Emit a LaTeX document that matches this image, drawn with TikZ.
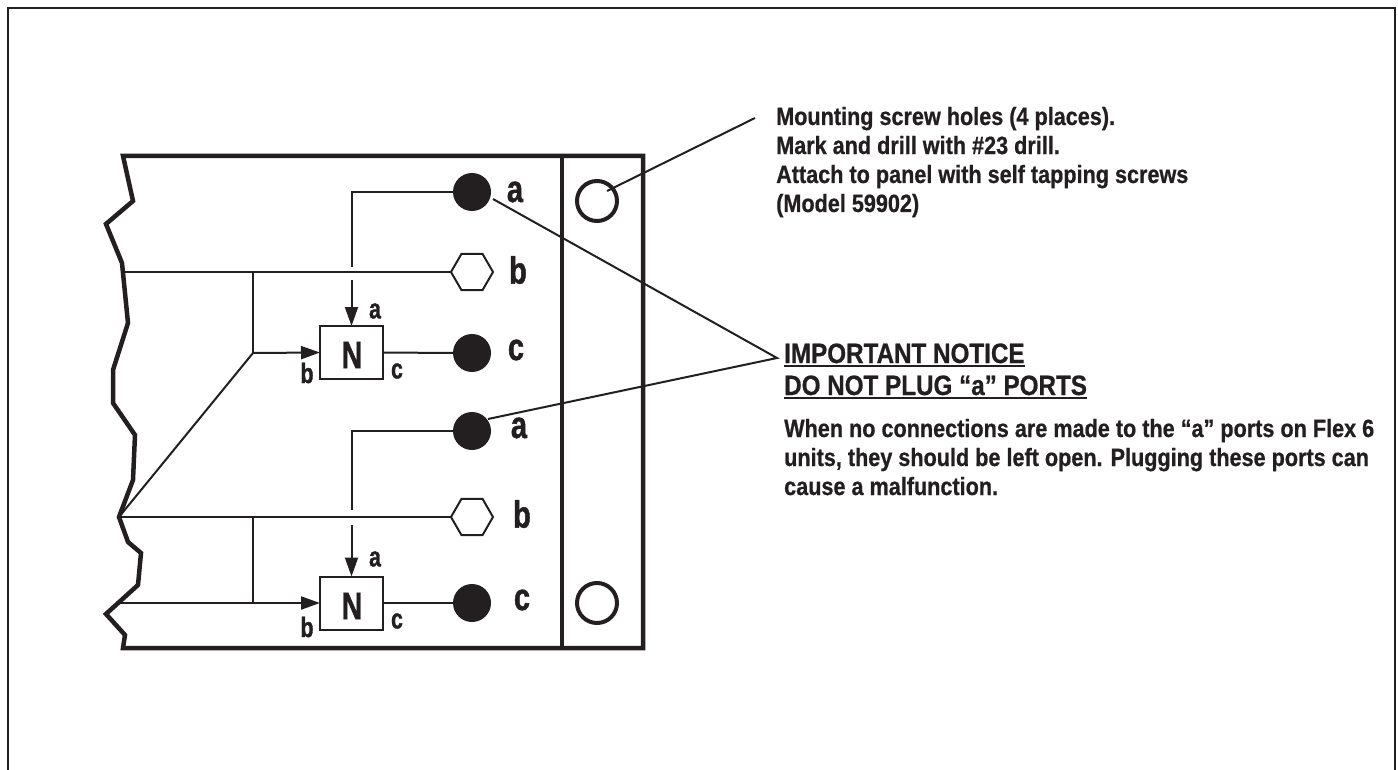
\documentclass[tikz,border=0pt]{standalone}
\usepackage{fontspec}
\setmainfont{Liberation Sans}[FakeStretch=0.865,BoldFeatures={FakeBold=0.7}]
\newfontfamily\portfont{Liberation Sans}[FakeStretch=0.76,BoldFeatures={FakeBold=1.2}]
\usepackage{tikz}
\usetikzlibrary{shapes.geometric}
\usetikzlibrary{arrows.meta}
\definecolor{inkblack}{HTML}{231F20}
\tikzset{
  hairline/.style={line width=2pt,color=inkblack},
  heavyline/.style={line width=4.5pt,color=inkblack,line join=miter},
  flowline/.style={hairline,-{Triangle[length=19pt,width=13pt]}},
  portdot/.style={circle,fill=inkblack,inner sep=0pt,outer sep=0pt,minimum size=38pt},
  porthex/.style={regular polygon,regular polygon sides=6,draw=inkblack,line width=2pt,fill=white,inner sep=0pt,outer sep=0pt,minimum size=42pt},
  screwhole/.style={circle,draw=inkblack,line width=4pt,fill=white,inner sep=0pt,outer sep=0pt,minimum size=40pt},
  valvebox/.style={rectangle,draw=inkblack,line width=2pt,fill=white,inner sep=0pt,outer sep=0pt,minimum width=63pt,minimum height=53pt},
  biglabel/.style={inner sep=0pt,text=inkblack,font=\fontsize{38}{38}\portfont\bfseries},
  smalllabel/.style={inner sep=0pt,text=inkblack,font=\fontsize{28}{28}\portfont\bfseries},
  notetext/.style={inner sep=0pt,anchor=base west,align=left,text=inkblack,font=\fontsize{25}{29}\selectfont\bfseries},
  headtext/.style={inner sep=0pt,anchor=base west,text=inkblack,font=\fontsize{28}{32}\selectfont\bfseries}
}
\begin{document}
\begin{tikzpicture}[x=1pt,y=-1pt,line cap=butt]
\useasboundingbox (0,0) rectangle (1398,770);
\fill[white] (0,0) rectangle (1398,770);
\draw [hairline] (8,770)-- (8,8)-- (1395,8)-- (1395,770);
\draw [heavyline] (123,156)-- (133,201)-- (106,224)-- (122,263)-- (128,323)-- (113,370)-- (113,403)-- (135,435)-- (133,480)-- (119,517)-- (128,542)-- (141,553)-- (138,585)-- (106,614)-- (125,635)-- (123,648)-- (643,648)-- (643,156)-- cycle;
\draw [heavyline] (562,156)-- (562,648);
\node[screwhole] (holeTop) at (597,201) {};
\node[screwhole] (holeBottom) at (597,603) {};
\node[portdot] (portA1) at (472,192) {};
\node[porthex] (portB1) at (472,272) {};
\node[portdot] (portC1) at (472,353) {};
\node[portdot] (portA2) at (472,431) {};
\node[porthex] (portB2) at (472,517) {};
\node[portdot] (portC2) at (472,603) {};
\node[valvebox] (valve1) at (351.5,352.5) {};
\node[valvebox] (valve2) at (351.5,603) {};
\node[biglabel] (labelA1) at (515,192) {a};
\node[biglabel] (labelB1) at (518,270) {b};
\node[biglabel] (labelC1) at (516,350) {c};
\node[biglabel] (labelA2) at (519,428) {a};
\node[biglabel] (labelB2) at (522,514) {b};
\node[biglabel] (labelC2) at (522,600) {c};
\node[smalllabel] (labelAa1) at (375,311) {a};
\node[smalllabel] (labelBb1) at (307,373) {b};
\node[smalllabel] (labelCc1) at (397,371) {c};
\node[smalllabel] (labelAa2) at (375,559) {a};
\node[smalllabel] (labelBb2) at (307,627) {b};
\node[smalllabel] (labelCc2) at (397,621) {c};
\node[biglabel] (nameN1) at (352,355) {N};
\node[biglabel] (nameN2) at (352,606) {N};
\coordinate (edgeB1) at (122,272);
\coordinate (edgeB2) at (119,517);
\coordinate (edgeC2) at (120,603);
\coordinate (teeB1) at (253,272);
\coordinate (kneeB1) at (253,353);
\coordinate (teeB2) at (253,517);
\coordinate (kneeB2) at (253,603);
\coordinate (cornerA1) at (351.5,192);
\coordinate (gapA1top) at (351.5,267);
\coordinate (gapA1low) at (351.5,280);
\coordinate (cornerA2) at (351.5,431);
\coordinate (gapA2top) at (351.5,510);
\coordinate (gapA2low) at (351.5,525);
\coordinate (leaderScrew) at (755,118);
\coordinate (leaderScrewEnd) at (607,191);
\coordinate (leaderNotice) at (777,358);
\coordinate (leaderPortA1) at (493,199);
\coordinate (leaderPortA2) at (488,419);
\draw [hairline] (portA1.west)-- (cornerA1)-- (gapA1top);
\draw [flowline] (gapA1low)-- (valve1.north);
\draw [hairline] (edgeB1)-- (portB1.west);
\draw [hairline] (teeB1)-- (kneeB1);
\draw [flowline] (kneeB1)-- (valve1.west);
\draw [hairline] (kneeB1)-- (edgeB2);
\draw [hairline] (valve1.east)-- (portC1.west);
\draw [hairline] (portA2.west)-- (cornerA2)-- (gapA2top);
\draw [flowline] (gapA2low)-- (valve2.north);
\draw [hairline] (edgeB2)-- (portB2.west);
\draw [hairline] (teeB2)-- (kneeB2);
\draw [flowline] (edgeC2)-- (valve2.west);
\draw [hairline] (valve2.east)-- (portC2.west);
\draw [hairline] (leaderScrew)-- (leaderScrewEnd);
\draw [hairline] (leaderPortA1)-- (leaderNotice)-- (leaderPortA2);
\node[notetext] (noteScrew) at (776,212) {Mounting screw holes (4 places).\\Mark and drill with \#23 drill.\\Attach to panel with self tapping screws\\(Model 59902)};
\node[headtext] (headOne) at (784,363) {IMPORTANT NOTICE};
\node[headtext] (headTwo) at (784,395) {DO NOT PLUG “a” PORTS};
\draw [hairline] ([yshift=-3pt]headOne.base west)-- ([yshift=-3pt]headOne.base east);
\draw [hairline] ([yshift=-3pt]headTwo.base west)-- ([yshift=-3pt]headTwo.base east);
\node[notetext] (noteBody) at (784,495) {When no connections are made to the “a” ports on Flex 6\\units, they should be left open. Plugging these ports can\\cause a malfunction.};
\end{tikzpicture}
\end{document}
